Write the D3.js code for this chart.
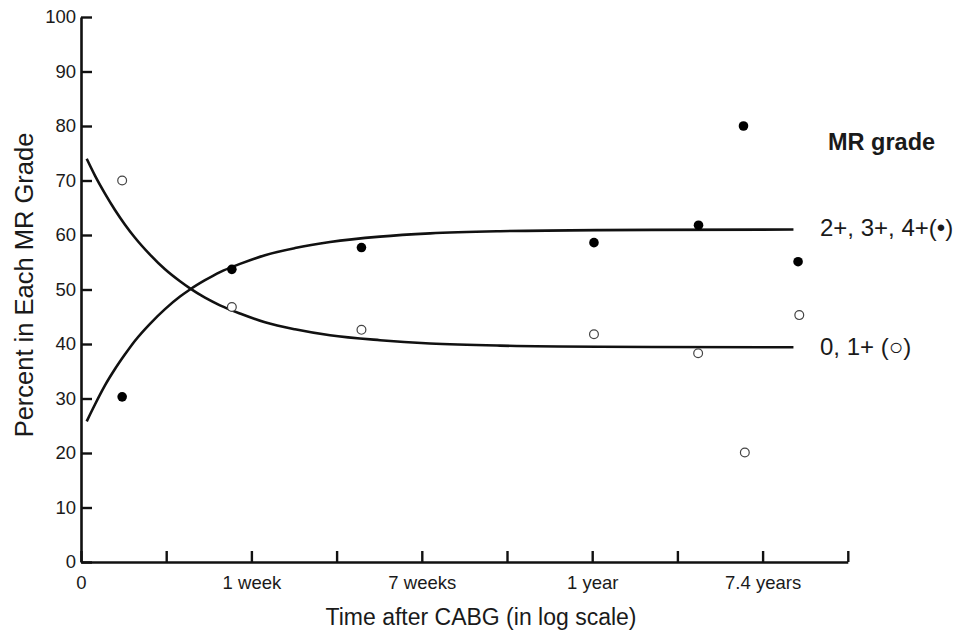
<!DOCTYPE html>
<html>
<head>
<meta charset="utf-8">
<script src="https://cdn.jsdelivr.net/npm/d3@7"></script>
<style>
  html, body { margin: 0; padding: 0; background: #fff; }
  svg { display: block; }
  text { font-family: "Liberation Sans", Arial, Helvetica, sans-serif; fill: #1a1a1a; }
</style>
</head>
<body>
<svg id="chart" width="959" height="632"></svg>
<script>
// ---- Data (time in days, shown on a log axis) ----
const xTickDays   = [1, Math.sqrt(7), 7, 7 * Math.sqrt(7), 49, 49 * Math.sqrt(7), 343, 343 * Math.sqrt(7), 2401, 2401 * Math.sqrt(7)];
const xTickLabels = ["0", "", "1 week", "", "7 weeks", "", "1 year", "", "7.4 years", ""];
const yTicks      = [0, 10, 20, 30, 40, 50, 60, 70, 80, 90, 100];

// observed points: 2+, 3+, 4+ (filled)
const severeDays   = [1.6, 5.6, 24.6, 350, 1155, 1930, 3600];
const severeValues = [30.3, 53.7, 57.7, 58.6, 61.8, 80.0, 55.1];
// observed points: 0, 1+ (open)
const mildDays   = [1.6, 5.6, 24.6, 350, 1150, 1960, 3650];
const mildValues = [70.0, 46.8, 42.6, 41.8, 38.3, 20.1, 45.3];

// fitted curves
const curveDays   = [1.067, 1.173, 1.315, 1.474, 1.653, 1.853, 2.199, 2.610, 3.098, 3.472, 4.121, 4.891, 6.146, 8.177, 11.52, 17.18, 30.40, 53.80, 119.7, 375, 3415];
const severeCurve = [25.8, 28.9, 32.4, 35.4, 38.1, 40.6, 43.7, 46.4, 48.7, 50.0, 51.7, 53.2, 54.7, 56.3, 57.6, 58.7, 59.7, 60.3, 60.7, 60.9, 61.0];
const mildCurve   = [74.0, 70.9, 67.6, 64.6, 61.9, 59.5, 56.4, 53.7, 51.5, 50.2, 48.5, 47.1, 45.6, 44.0, 42.7, 41.6, 40.7, 40.1, 39.7, 39.5, 39.4];

const legendTitle  = "MR grade";
const severeLabel  = "2+, 3+, 4+(\u2022)";
const mildLabel    = "0, 1+ (\u25CB)";

// ---- Layout ----
const svg = d3.select("#chart");
const x = d3.scaleLog().domain([1, 2401 * Math.sqrt(7)]).range([81, 847.8]);
const y = d3.scaleLinear().domain([0, 100]).range([562, 17]);

// axes
const yAxis = d3.axisLeft(y).tickValues(yTicks).tickSize(-11).tickSizeOuter(0).tickPadding(5).tickFormat(d3.format("d"));
const gy = svg.append("g").attr("transform", "translate(81,0)").call(yAxis);

const xAxis = d3.axisBottom(x).tickValues(xTickDays).tickSize(-11).tickSizeOuter(0).tickPadding(14)
  .tickFormat((d, i) => xTickLabels[i]);
const gx = svg.append("g").attr("transform", "translate(0,562)").call(xAxis);

[gx, gy].forEach(g => {
  g.select(".domain").attr("stroke", "#111").attr("stroke-width", 2.6);
  g.selectAll(".tick line").attr("stroke", "#111").attr("stroke-width", 2.4);
  g.selectAll(".tick text").attr("font-size", 18.5).attr("fill", "#1a1a1a")
    .attr("font-family", "'Liberation Sans', Arial, sans-serif");
});

// axis titles
svg.append("text")
  .attr("transform", "translate(33,285) rotate(-90)")
  .attr("text-anchor", "middle")
  .attr("font-size", 25.5)
  .text("Percent in Each MR Grade");

svg.append("text")
  .attr("x", 481).attr("y", 625)
  .attr("text-anchor", "middle")
  .attr("font-size", 23)
  .text("Time after CABG (in log scale)");

// curves
const line = d3.line().x(d => x(d[0])).y(d => y(d[1])).curve(d3.curveMonotoneX);
svg.append("path")
  .attr("d", line(curveDays.map((d, i) => [d, severeCurve[i]])))
  .attr("fill", "none").attr("stroke", "#111").attr("stroke-width", 2.6);
svg.append("path")
  .attr("d", line(curveDays.map((d, i) => [d, mildCurve[i]])))
  .attr("fill", "none").attr("stroke", "#111").attr("stroke-width", 2.6);

// points
svg.append("g").selectAll("circle")
  .data(severeDays.map((d, i) => [d, severeValues[i]]))
  .join("circle")
  .attr("cx", d => x(d[0])).attr("cy", d => y(d[1])).attr("r", 4.8)
  .attr("fill", "#000");

svg.append("g").selectAll("circle")
  .data(mildDays.map((d, i) => [d, mildValues[i]]))
  .join("circle")
  .attr("cx", d => x(d[0])).attr("cy", d => y(d[1])).attr("r", 4.4)
  .attr("fill", "#fff").attr("stroke", "#444").attr("stroke-width", 1.2);

// legend / labels
svg.append("text")
  .attr("x", 828).attr("y", 150)
  .attr("font-size", 23.5).attr("font-weight", "bold")
  .text(legendTitle);

svg.append("text")
  .attr("x", 820).attr("y", 236)
  .attr("font-size", 24)
  .text(severeLabel);

svg.append("text")
  .attr("x", 820).attr("y", 355)
  .attr("font-size", 24)
  .text(mildLabel);
</script>
</body>
</html>
